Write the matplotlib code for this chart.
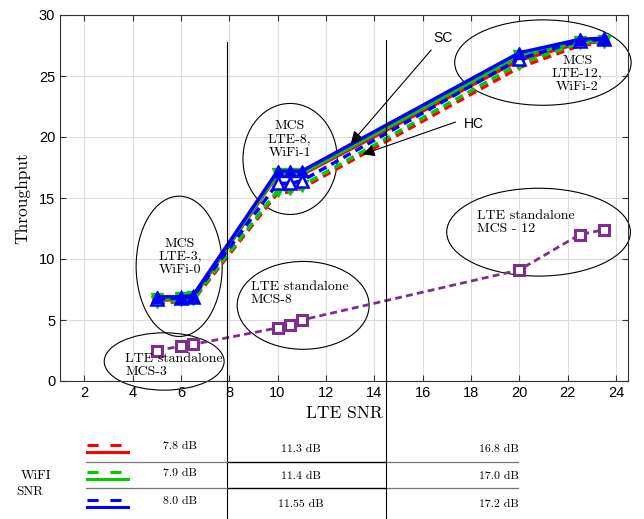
import matplotlib
matplotlib.use('Agg')
import matplotlib.pyplot as plt
from matplotlib.patches import Ellipse
from matplotlib.lines import Line2D
from matplotlib.transforms import blended_transform_factory

plt.rcParams['lines.scale_dashes'] = False
SERIF = ['cmr10', 'DejaVu Serif']
SANS = ['Liberation Sans', 'DejaVu Sans']

# data -----------------------------------------
lte_snr = [5, 6, 6.5, 10, 10.5, 11, 20, 22.5, 23.5]
sc_red = [6.6, 6.7, 6.8, 16.9, 16.9, 16.9, 26.3, 27.7, 27.8]
sc_green = [6.7, 6.8, 6.9, 17.0, 17.0, 17.0, 26.6, 27.8, 27.9]
sc_blue = [6.9, 6.9, 7.0, 17.2, 17.2, 17.2, 26.9, 28.0, 28.1]
hc_red = [6.4, 6.5, 6.6, 15.4, 15.5, 15.8, 25.7, 27.5, 27.7]
hc_green = [6.5, 6.6, 6.7, 15.6, 15.7, 16.0, 26.0, 27.7, 27.8]
hc_blue = [6.7, 6.8, 6.9, 16.2, 16.2, 16.4, 26.4, 27.9, 28.0]
standalone = [2.5, 2.85, 3.0, 4.35, 4.55, 5.0, 9.1, 12.0, 12.4]

x_ticks = list(range(2, 25, 2))
y_ticks = list(range(0, 31, 5))

wifi_snr_rows = [['7.8 dB', '11.3 dB', '16.8 dB'],
                 ['7.9 dB', '11.4 dB', '17.0 dB'],
                 ['8.0 dB', '11.55 dB', '17.2 dB']]
row_colors = ['#ff0000', '#00cc00', '#0000ff']

# figure ---------------------------------------
fig = plt.figure(figsize=(6.44, 5.19), dpi=100)
ax = fig.add_axes([60/644, 1-381/519, 568/644, 366/519])

lw = 2.5
dash = (0, (6, 4))
ax.plot(lte_snr, hc_red, color='#ff0000', lw=lw, ls=dash)
ax.plot(lte_snr, sc_red, color='#ff0000', lw=lw)
ax.plot(lte_snr, hc_green, color='#00cc00', lw=lw, ls=dash, marker='v', ms=8, mfc='#00cc00', mec='#00cc00')
ax.plot(lte_snr, sc_green, color='#00cc00', lw=lw, marker='v', ms=8, mfc='#00cc00', mec='#00cc00')
ax.plot(lte_snr, hc_blue, color='#0000ff', lw=lw, ls=dash, marker='^', ms=8, mfc='white', mec='#0000ff', mew=1.8)
ax.plot(lte_snr, sc_blue, color='#0000ff', lw=lw, marker='^', ms=8, mfc='#0000ff', mec='#0000ff')
ax.plot(lte_snr, standalone, color='#7e2f8e', lw=2, ls=(0, (5, 3)), marker='s', ms=6.5,
        mfc='white', mec='#7e2f8e', mew=2.2)

ax.set_xlim(1, 24.5)
ax.set_ylim(0, 30)
ax.set_xticks(x_ticks)
ax.set_yticks(y_ticks)
ax.grid(True, color='#dedede', lw=0.8)
ax.set_axisbelow(True)
ax.tick_params(direction='in', top=True, right=True, length=4, labelsize=10.5, color='#333333')
for lab in ax.get_xticklabels() + ax.get_yticklabels():
    lab.set_family(SANS)
for sp in ax.spines.values():
    sp.set_color('#333333')
    sp.set_linewidth(0.8)

ax.set_xlabel('LTE SNR', family=SERIF, fontsize=12.5, labelpad=4)
ax.set_ylabel('Throughput', family=SERIF, fontsize=12.5, labelpad=6)

# ellipses + labels
ells = [(5.93, 9.4, 3.56, 11.5), (10.52, 18.2, 3.9, 9.1), (20.98, 26.1, 7.3, 7.0),
        (20.8, 12.2, 7.6, 7.2), (11.06, 6.2, 5.46, 7.2), (5.31, 1.6, 4.96, 4.7)]
for cx, cy, w, h in ells:
    ax.add_patch(Ellipse((cx, cy), w, h, fill=False, ec='black', lw=0.8, clip_on=False))

ax.text(5.97, 10.2, 'MCS\nLTE-3,\nWiFi-0', family=SERIF, fontsize=10, ha='center', va='center', linespacing=1.1)
ax.text(10.5, 19.8, 'MCS\nLTE-8,\nWiFi-1', family=SERIF, fontsize=10, ha='center', va='center', linespacing=1.1)
ax.text(22.4, 25.2, 'MCS\nLTE-12,\nWiFi-2', family=SERIF, fontsize=10, ha='center', va='center', linespacing=1.1)
ax.text(18.25, 13.0, 'LTE standalone\nMCS - 12', family=SERIF, fontsize=10, ha='left', va='center', linespacing=1.1)
ax.text(8.9, 7.2, 'LTE standalone\nMCS-8', family=SERIF, fontsize=10, ha='left', va='center', linespacing=1.1)
ax.text(3.7, 1.3, 'LTE standalone\nMCS-3', family=SERIF, fontsize=10, ha='left', va='center', linespacing=1.1)

# SC / HC arrows
ax.text(16.85, 28.1, 'SC', family=SANS, fontsize=10, ha='center', va='center')
ax.annotate('', xy=(12.96, 19.3), xytext=(16.43, 27.3),
            arrowprops=dict(arrowstyle='-|>', lw=0.8, color='black', mutation_scale=18))
ax.text(18.13, 21.1, 'HC', family=SANS, fontsize=10, ha='center', va='center')
ax.annotate('', xy=(13.41, 18.5), xytext=(17.47, 21.3),
            arrowprops=dict(arrowstyle='-|>', lw=0.8, color='black', mutation_scale=18))

# vertical separators running down into the table
trans = blended_transform_factory(ax.transData, fig.transFigure)
for xv, ytop in [(7.92, 1-42/519), (14.49, 1-40/519)]:
    fig.add_artist(Line2D([xv, xv], [0, ytop], transform=trans, color='black', lw=0.8))

# table below the axes ---------------------------
def fx(px):
    return px / 644

def fy(py):
    return 1 - py / 519

for py in [462, 488]:
    fig.add_artist(Line2D([fx(86), fx(518)], [fy(py), fy(py)], color='#777777', lw=0.9))
    fig.add_artist(Line2D([fx(228), fx(386)], [fy(py), fy(py)], color='black', lw=0.9))

row_y = [446, 473, 501]
for i, (row, c) in enumerate(zip(wifi_snr_rows, row_colors)):
    yd = row_y[i]
    fig.add_artist(Line2D([fx(87), fx(121)], [fy(yd - 1), fy(yd - 1)], color=c, lw=2.2, ls=(0, (8, 8.5))))
    fig.add_artist(Line2D([fx(87), fx(128)], [fy(yd + 6), fy(yd + 6)], color=c, lw=2.2))
    fig.text(fx(180), fy(yd), row[0], family=SERIF, fontsize=8.5, ha='center', va='center')
    fig.text(fx(301), fy(yd + 3), row[1], family=SERIF, fontsize=8.5, ha='center', va='center')
    fig.text(fx(499), fy(yd + 3), row[2], family=SERIF, fontsize=8.5, ha='center', va='center')

fig.text(fx(36), fy(476), 'WiFI', family=SERIF, fontsize=9.5, ha='center', va='center')
fig.text(fx(30), fy(492), 'SNR', family=SERIF, fontsize=9.5, ha='center', va='center')

fig.savefig('out.png', dpi=100)
